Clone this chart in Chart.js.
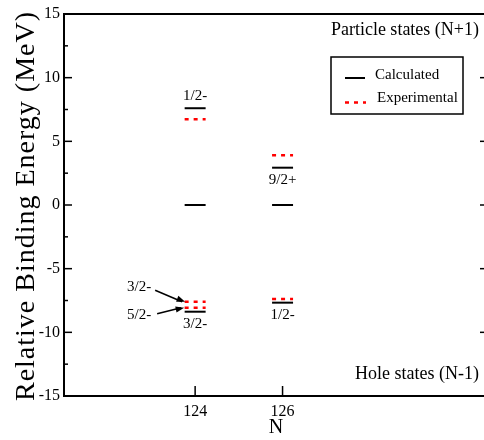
<!DOCTYPE html>
<html>
<head>
<meta charset="utf-8">
<script src="https://cdn.jsdelivr.net/npm/chart.js@4/dist/chart.umd.min.js"></script>
<style>
  html, body { margin: 0; padding: 0; background: #fff; }
  #wrap { width: 484px; height: 440px; overflow: hidden; position: relative; }
</style>
</head>
<body>
<div id="wrap"><canvas id="c" width="496" height="440"></canvas></div>
<script>
// ---- data ----
const nTicks = [124, 126];
const calcN = [124, 124, 124, 126, 126, 126];
const calcE = [7.60, 0, -8.38, 2.93, 0, -7.67];
const expN = [124, 124, 124, 126, 126];
const expE = [6.73, -7.60, -8.07, 3.90, -7.38];
const labelText = ['1/2-', '9/2+', '3/2-', '1/2-'];
const labelN = [124, 126, 124, 126];
const labelE = [7.60, 2.93, -8.38, -7.67];
const labelSide = ['above', 'below', 'below', 'below'];
const arrowText = ['3/2-', '5/2-'];
const arrowN = [124, 124];
const arrowE = [-7.60, -8.07];
const yTickLabels = ['15', '10', '5', '0', '-5', '-10', '-15'];
const legendText = ['Calculated', 'Experimental'];
const regionText = ['Particle states (N+1)', 'Hole states (N-1)'];

const HALF = 0.24; // half width of a level bar in N units
const SERIF = '"Liberation Serif", "Times New Roman", serif';

function seg(n, e) { return [{x: n - HALF, y: e}, {x: n + HALF, y: e}]; }

const datasets = [];
calcN.forEach((n, i) => datasets.push({
  label: legendText[0], data: seg(n, calcE[i]), showLine: true,
  borderColor: '#000', borderWidth: 2, pointRadius: 0, fill: false
}));
expN.forEach((n, i) => datasets.push({
  label: legendText[1], data: seg(n, expE[i]), showLine: true,
  borderColor: '#ff0000', borderWidth: 2.5, borderDash: [4, 5], pointRadius: 0, fill: false
}));

function line(ctx, x1, y1, x2, y2) { ctx.beginPath(); ctx.moveTo(x1, y1); ctx.lineTo(x2, y2); ctx.stroke(); }

const decor = {
  id: 'decor',
  afterDraw(chart) {
    const {ctx, chartArea: a, scales: {x, y}} = chart;
    ctx.save();
    // frame
    ctx.strokeStyle = '#000'; ctx.lineWidth = 2;
    ctx.strokeRect(a.left, a.top, a.right - a.left, a.bottom - a.top);
    // inward ticks
    ctx.lineWidth = 1.5;
    y.ticks.forEach(t => {
      const py = y.getPixelForValue(t.value);
      const len = (Math.abs(t.value) % 5 === 0) ? 8 : 4;
      line(ctx, a.left, py, a.left + len, py);
      line(ctx, a.right, py, a.right - len, py);
    });
    x.ticks.forEach(t => {
      const px = x.getPixelForValue(t.value);
      line(ctx, px, a.bottom, px, a.bottom - 10);
    });
    // y title
    ctx.save();
    ctx.fillStyle = '#000';
    ctx.font = '28px ' + SERIF;
    ctx.letterSpacing = '1px';
    ctx.textAlign = 'center'; ctx.textBaseline = 'alphabetic';
    ctx.translate(34, (a.top + a.bottom) / 2 + 1);
    ctx.rotate(-Math.PI / 2);
    ctx.fillText('Relative Binding Energy (MeV)', 0, 0);
    ctx.restore();
    // state labels
    ctx.fillStyle = '#000';
    ctx.font = '15px ' + SERIF;
    ctx.textAlign = 'center'; ctx.textBaseline = 'middle';
    labelText.forEach((t, i) => {
      const px = x.getPixelForValue(labelN[i]);
      const py = y.getPixelForValue(labelE[i]);
      ctx.fillText(t, px, labelSide[i] === 'above' ? py - 12 : py + 12);
    });
    // arrow labels
    const arrowLayout = [
      {tx: -46, ty: -15, sx: -30, sy: -11.5, ex: -10},
      {tx: -45, ty: 7, sx: -27, sy: 6, ex: -11}
    ];
    arrowText.forEach((t, i) => {
      const L = arrowLayout[i];
      const tipX = x.getPixelForValue(arrowN[i]) + L.ex;
      const tipY = y.getPixelForValue(arrowE[i]);
      ctx.fillText(t, tipX + L.tx, tipY + L.ty);
      const sx = tipX + L.sx, sy = tipY + L.sy;
      ctx.lineWidth = 1.5;
      line(ctx, sx, sy, tipX - 3, tipY);
      const ang = Math.atan2(tipY - sy, tipX - sx);
      ctx.beginPath();
      ctx.moveTo(tipX, tipY);
      ctx.lineTo(tipX - 9 * Math.cos(ang - 0.35), tipY - 9 * Math.sin(ang - 0.35));
      ctx.lineTo(tipX - 9 * Math.cos(ang + 0.35), tipY - 9 * Math.sin(ang + 0.35));
      ctx.closePath(); ctx.fill();
    });
    // region texts
    ctx.font = '18px ' + SERIF;
    ctx.textAlign = 'right'; ctx.textBaseline = 'alphabetic';
    ctx.fillText(regionText[0], 479, 35);
    ctx.fillText(regionText[1], 479, 379);
    // legend box
    ctx.lineWidth = 1.5;
    ctx.strokeRect(331, 57, 132, 57);
    ctx.strokeStyle = '#000'; ctx.lineWidth = 2; ctx.setLineDash([]);
    line(ctx, 345, 78, 365, 78);
    ctx.strokeStyle = '#ff0000'; ctx.lineWidth = 2.5; ctx.setLineDash([4, 5]);
    line(ctx, 345, 102.5, 366, 102.5);
    ctx.setLineDash([]);
    ctx.font = '15px ' + SERIF; ctx.textAlign = 'left';
    ctx.fillText(legendText[0], 375, 79);
    ctx.fillText(legendText[1], 377, 102);
    ctx.restore();
  }
};

new Chart(document.getElementById('c'), {
  type: 'scatter',
  data: {datasets},
  options: {
    responsive: false,
    animation: false,
    layout: {padding: {top: 14, right: 8, left: 0, bottom: 0}},
    plugins: {legend: {display: false}, tooltip: {enabled: false}},
    scales: {
      x: {
        type: 'linear', min: 121, max: 130.7,
        grid: {display: false, drawTicks: false}, border: {display: false},
        afterBuildTicks: s => { s.ticks = nTicks.map(v => ({value: v})); },
        afterFit: s => { s.height = 44; },
        ticks: {color: '#000', font: {family: SERIF, size: 16}, padding: 6, autoSkip: false,
                callback: v => String(v)},
        title: {display: true, text: 'N', color: '#000', font: {family: SERIF, size: 20}, padding: {top: 0, bottom: 0}}
      },
      y: {
        type: 'linear', min: -15, max: 15,
        grid: {display: false, drawTicks: false}, border: {display: false},
        afterFit: s => { s.width = 64; },
        ticks: {stepSize: 2.5, autoSkip: false, color: '#000', font: {family: SERIF, size: 16}, padding: 4,
                callback: v => (Math.abs(v) % 5 === 0 ? yTickLabels[(15 - v) / 5] : '')}
      }
    }
  },
  plugins: [decor]
});
</script>
</body>
</html>
